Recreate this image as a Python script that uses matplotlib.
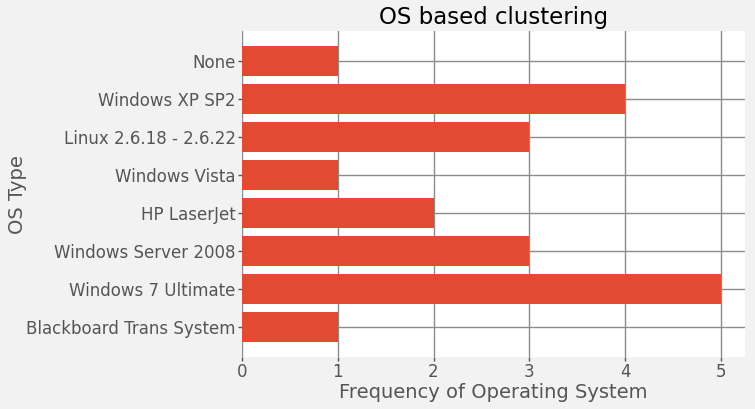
import matplotlib
matplotlib.use("Agg")
import matplotlib.pyplot as plt

categories = ["Blackboard Trans System", "Windows 7 Ultimate", "Windows Server 2008",
              "HP LaserJet", "Windows Vista", "Linux 2.6.18 - 2.6.22",
              "Windows XP SP2", "None"]
counts = [1, 5, 3, 2, 1, 3, 4, 1]

fig = plt.figure(figsize=(7.55, 4.09), dpi=100, facecolor="#f2f2f2")
ax = fig.add_axes([0.3205, 0.127, 0.666, 0.797])
ax.set_facecolor("white")
ax.barh(categories, counts, height=0.8, color="#E24A33", zorder=2)
ax.grid(True, color="#8c8c8c", linewidth=1, zorder=0)
ax.set_axisbelow(True)
for s in ax.spines.values():
    s.set_visible(False)
ax.set_xlim(0, 5.25)
ax.tick_params(axis="both", colors="#555555", labelsize=12, length=3, width=1)
ax.tick_params(axis="x", pad=1)
ax.tick_params(axis="y", pad=1.5)
ax.set_xticks([0, 1, 2, 3, 4, 5])
ax.set_title("OS based clustering", fontsize=16.5, color="black", pad=5)
ax.set_xlabel("Frequency of Operating System", fontsize=14, color="#555555", labelpad=2)
ax.set_ylabel("OS Type", fontsize=14, color="#555555")
ax.yaxis.set_label_coords(-0.428, 0.5)
fig.savefig("out.png", dpi=100, facecolor=fig.get_facecolor())
